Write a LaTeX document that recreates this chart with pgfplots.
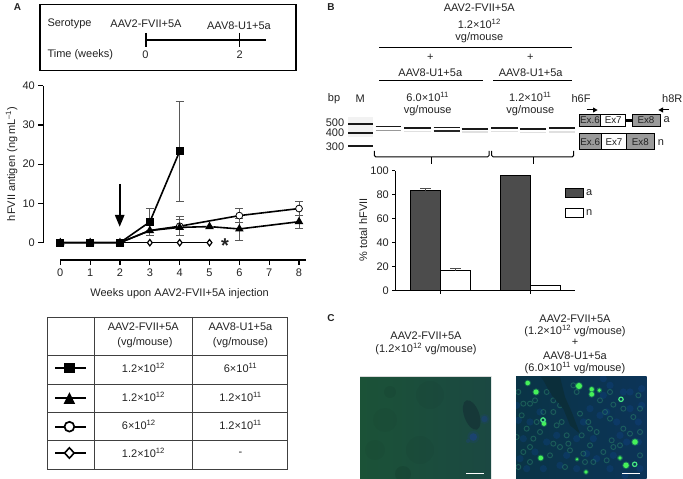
\documentclass[border=0pt]{standalone}
\usepackage{pgfplots}
\pgfplotsset{compat=1.18}
\usepackage{fontspec}
\setmainfont{Liberation Sans}
\newcommand{\fs}{\fontsize{11}{13}\selectfont}
\newcommand{\fx}{\fontsize{9.8}{12}\selectfont}
\newcommand{\sq}[1]{\textsuperscript{#1}}
\definecolor{ink}{HTML}{222222}
\definecolor{exg}{HTML}{9A9A9A}
\definecolor{lgL}{RGB}{27,82,55}
\definecolor{lgR}{RGB}{27,72,66}
\definecolor{lblue}{RGB}{28,66,120}
\definecolor{lves}{RGB}{22,56,56}
\definecolor{rbL}{RGB}{10,52,70}
\definecolor{rbR}{RGB}{12,52,88}
\definecolor{rblue}{RGB}{16,70,150}
\definecolor{rves}{RGB}{11,46,58}
\definecolor{ring}{RGB}{50,145,110}
\definecolor{glowg}{RGB}{40,190,90}
\definecolor{brightg}{RGB}{70,240,90}
\definecolor{ringb}{RGB}{70,230,130}
\pgfplotsset{
  myaxis/.style={
    scale only axis, clip=false,
    axis x line*=bottom, axis y line*=left,
    axis line style={draw=none},
    tick align=outside,
    tick style={black,line width=1.2pt},
    /pgf/number format/assume math mode=true,
    tick label style={font=\fs,text=ink},
    xtick pos=bottom, ytick pos=left,
  },
  ebar/.style={error bars/.cd, y dir=both, y explicit,
     error bar style={line width=0.8pt,draw=black!65},
     error mark options={rotate=90,mark size=4pt,line width=0.8pt,draw=black!65}},
}
\begin{document}
\begin{tikzpicture}
\path[use as bounding box] (0pt,0pt) rectangle (683pt,479pt);

\begin{scope}[x=1pt,y=-1pt,shift={(0pt,479pt)},every node/.style={font=\fs,text=ink,inner sep=0pt}]
% panel labels
\node[font=\fontsize{10}{12}\selectfont\bfseries] at (17.5,7) {A};
\node[font=\fontsize{10}{12}\selectfont\bfseries] at (331,7) {B};
\node[font=\fontsize{10}{12}\selectfont\bfseries] at (331,318) {C};
% schedule box
\draw[line width=1.5pt] (40,4.5) rectangle (296,70.3);
\node[anchor=west] at (47.3,23.7) {Serotype};
\node at (146,23.7) {AAV2-FVII+5A};
\node at (239,25.3) {AAV8-U1+5a};
\node[anchor=west] at (47.3,55) {Time (weeks)};
\node at (145.5,55) {0};
\node at (239.6,55) {2};
\draw[line width=1.7pt] (146,40) -- (265.7,40);
\draw[line width=1.7pt] (146,33) -- (146,46.7);
\draw[line width=1.7pt] (239.5,33) -- (239.5,46.7);
% arrow and star
\draw[line width=2pt] (119.7,184) -- (119.7,216);
\fill (114.8,215) -- (124.6,215) -- (119.7,226.7) -- cycle;
\node[font=\fontsize{20}{20}\selectfont\bfseries] at (225,246) {*};
% table
\draw[line width=0.9pt,draw=black!75]
  (47,317) rectangle (287.7,469)
  (94.7,317) -- (94.7,469) (192,317) -- (192,469)
  (47,355.7) -- (287.7,355.7) (47,384.3) -- (287.7,384.3)
  (47,412.3) -- (287.7,412.3) (47,440.7) -- (287.7,440.7);
\node at (143.3,326.7) {AAV2-FVII+5A};
\node at (145,342.3) {(vg/mouse)};
\node at (240.5,326.7) {AAV8-U1+5a};
\node at (240.5,342.3) {(vg/mouse)};
\node at (143.5,368.3) {1.2×10\sq{12}};
\node at (143.5,397) {1.2×10\sq{12}};
\node[anchor=west] at (121.7,425) {6×10\sq{12}};
\node at (143.5,453.3) {1.2×10\sq{12}};
\node at (240.5,368.3) {6×10\sq{11}};
\node at (240.5,397) {1.2×10\sq{11}};
\node at (240.5,425) {1.2×10\sq{11}};
\node at (240.5,453.5) {-};
\foreach \yy in {368,398,426.7,453} \draw[line width=1.8pt] (55,\yy) -- (85.7,\yy);
\fill (64.2,362.8) rectangle (74.6,373.2);
\fill (69.4,392.2) -- (75.2,404) -- (63.6,404) -- cycle;
\draw[line width=1.7pt,fill=white] (69.4,426.7) circle (4.9);
\draw[line width=1.6pt,fill=white] (69.4,447.8) -- (74.2,453) -- (69.4,458.2) -- (64.6,453) -- cycle;

% panel B header
\node at (479.3,8) {AAV2-FVII+5A};
\node at (479.3,24) {1.2×10\sq{12}};
\node at (479.3,37.7) {vg/mouse};
\draw[line width=0.9pt] (379,47.3) -- (572.3,47.3);
\node at (430.3,57.3) {+};
\node at (530.3,57.3) {+};
\node at (430.3,72.7) {AAV8-U1+5a};
\node at (530.7,72.7) {AAV8-U1+5a};
\draw[line width=0.9pt] (379,80.7) -- (483.3,80.7) (493.3,80.7) -- (572.3,80.7);
\node at (334,98.3) {bp};
\node at (360.3,98.3) {M};
\node at (427.7,96.7) {6.0×10\sq{11}};
\node at (427.7,111) {vg/mouse};
\node at (530.3,96.7) {1.2×10\sq{11}};
\node at (530.3,111) {vg/mouse};
\node at (581,99) {h6F};
\node at (672.3,99) {h8R};
\node at (335,122.7) {500};
\node at (335,132.7) {400};
\node at (335,146.7) {300};
% gel
\fill[black!5] (348.3,116.7) rectangle (373.3,137);
\foreach \yy in {124,132.7,146.3} \draw[line width=1.7pt,black!90] (348.3,\yy) -- (373.3,\yy);
\foreach \xa/\xb/\ya/\wa/\yb/\cb/\wb in {
 375.7/401/126.6/1.1/130.7/black!40/1.5,
 404.3/430.7/128.2/1.6/131.4/black!12/1.4,
 433.7/459.7/127.4/1.1/131/black!85/1.4,
 461.7/487.7/128.7/1.8/131.9/black!12/1.4,
 491/517.7/128.3/2/131.7/black!12/1.4,
 520.3/546.3/129/2/132.4/black!12/1.4,
 549.3/575/128.3/2/131.9/black!12/1.4}{
  \draw[line width=\wb pt,\cb] (\xa,\yb) -- (\xb,\yb);
  \draw[line width=\wa pt,black!90] (\xa,\ya) -- (\xb,\ya);
}
% brackets
\draw[line width=1pt,rounded corners=1.5pt] (374.3,151) -- (374.3,157) -- (489,157) -- (489,151);
\draw[line width=1pt,rounded corners=1.5pt] (491.7,151) -- (491.7,157) -- (573.7,157) -- (573.7,151);
\draw[line width=1pt] (431.7,157) -- (431.7,164.3) (533,157) -- (533,164.3);
% exons
\draw[line width=0.8pt,fill=exg] (579,114) rectangle (600.7,126);
\draw[line width=0.8pt,fill=white] (600.7,114) rectangle (625.7,126);
\draw[line width=2.6pt] (625.7,120.5) -- (632.3,120.5);
\draw[line width=0.8pt,fill=exg] (632.3,114) rectangle (660,126);
\draw[line width=0.8pt,fill=exg] (579,133.7) rectangle (601.3,149.3);
\draw[line width=0.8pt,fill=white] (601.3,133.7) rectangle (626.7,149.3);
\draw[line width=0.8pt,fill=exg] (626.7,133.7) rectangle (654,149.3);
\node[font=\fx] at (590,120) {Ex.6};
\node[font=\fx] at (613.2,120) {Ex7};
\node[font=\fx] at (646,120) {Ex8};
\node[font=\fx] at (590.2,142) {Ex.6};
\node[font=\fx] at (614,142) {Ex7};
\node[font=\fx] at (640.3,142) {Ex8};
\node at (666.7,120) {a};
\node at (661,142.3) {n};
\draw[line width=1pt] (586.7,110) -- (594,110);
\fill (593,107.4) -- (597.6,110) -- (593,112.6) -- cycle;
\draw[line width=1pt] (669,110) -- (662,110);
\fill (663,107.4) -- (658.4,110) -- (663,112.6) -- cycle;

% panel C
\node at (426,336) {AAV2-FVII+5A};
\node at (426,349.3) {(1.2×10\sq{12} vg/mouse)};
\node at (575,318.3) {AAV2-FVII+5A};
\node at (575,331) {(1.2×10\sq{12} vg/mouse)};
\node at (575,342.3) {+};
\node at (575,355.7) {AAV8-U1+5a};
\node at (575,368.3) {(6.0×10\sq{11} vg/mouse)};
% left micrograph
\begin{scope}
\clip (360,376.7) rectangle (491,478.5);
\shade[left color=lgL,right color=lgR] (360,376.7) rectangle (491,478.5);
\foreach \x/\y/\r/\o in {390/392/6/.05,403/474/8/.08,385/420/12/.03,430/395/14/.03,420/450/14/.03,375/450/10/.03}
  \fill[black,opacity=\o] (\x,\y) circle (\r);
\fill[lblue,opacity=.25] (473.3,437) circle (6);
\fill[lblue,opacity=.8] (473.3,437) circle (3.8);
\fill[lblue,opacity=.25] (484.5,419) circle (5);
\fill[lblue,opacity=.6] (484.5,419) circle (3.2);
\fill[lblue,opacity=.4] (468,441) circle (2);
\fill[lves,rotate around={20:(471.7,415)}] (471.7,415) ellipse (7.5 and 15.5);
\end{scope}
\draw[line width=1.5pt,white] (466.3,473.7) -- (483.7,473.7);
\draw[line width=0.5pt,black!15] (360,376.7) -- (491,376.7);
% right micrograph
\begin{scope}
\clip (516,377) rectangle (646.7,478.5);
\shade[left color=rbL,right color=rbR] (516,377) rectangle (646.7,478.5);
\foreach \a/\b in {
 300/40,340/60,290/120,320/150,360/110,385/150,350/210,310/250,385/210,270/130,
 240/110,250/200,300/290,345/310,390/290,260/260,200/290,150/280,100/290,50/290,
 30/260,60/150,90/120,130/60,20/100,40/200,110/210,170/250,200/200,220/150,
 360/60,395/50,280/70,330/190,280/20,395/100,230/245,140/190,75/240,25/145}
  \fill[rblue,opacity=.28] ({510+\a/3},{372+\b/3}) circle (3.6);
\foreach \a/\b in {
 100/145,60/95,130/120,310/98,340/110,390/110,260/180,305/205,240/170,150/225,
 180/235,120/250,250/270,50/170,130/215,20/195,390/180,300/140,310/225,360/185,
 240/220,270/85,210/125,70/200,90/180,155/150,35/130,40/240,170/190,130/85,
 100/120,60/225,280/240,220/245,390/250,370/135,340/170,285/120,40/95,25/60,
 75/85,330/220,290/265,150/100,110/60,190/40,225/270,165/285,60/270,25/285,
 200/60,215/190,235/150,300/60,385/70,140/160,80/150,175/215}{
  \draw[ring,line width=1.4pt,opacity=.14] ({510+\a/3},{372+\b/3}) circle (2.5);
  \draw[ring,line width=.6pt,opacity=.42] ({510+\a/3},{372+\b/3}) circle (2.5);
}
\fill[rves] (541,377) -- (560,377) -- (565,397) -- (571.7,412) -- (580,433.7) -- (570,425.3) -- (563.3,408.7) -- (551.7,395.3) -- (543.3,380.3) -- cycle;
\foreach \x/\y/\r in {527.7/383/2.3,536/392/2.6,579/386/3,591.7/389.3/2.2,591.7/394.3/2.4,599.3/390.3/1.8,
 544/423.7/2.2,635/442/2.8,620/458/1.9,626/465.3/2.8,540.7/458/2.4,577/459.3/1.3,586/472/1.8}{
  \fill[glowg,opacity=.4] (\x,\y) circle ({\r+1});
  \fill[brightg] (\x,\y) circle (\r);
}
\foreach \x/\y in {621/399.3,634.7/464.3,543/420}{
  \draw[ringb,line width=1.2pt] (\x,\y) circle (2.2);
}
\end{scope}
\draw[line width=1.5pt,white] (622,473.7) -- (640,473.7);
\end{scope}

% ---------- line chart, panel A
\begin{axis}[myaxis,
  at={(43.3pt,219pt)},anchor=south west,
  width=262.2pt,height=174.3pt,
  xmin=-0.57,xmax=8.217,ymin=-4.41,ymax=40,
  xtick={0,1,2,3,4,5,6,7,8},ytick={0,10,20,30,40},
  major tick length=5pt,
  xlabel={Weeks upon AAV2-FVII+5A injection},
  ylabel={hFVII antigen (ng\,mL\textsuperscript{–1})},
  every axis x label/.style={at={(axis description cs:0.52,-0.191)},anchor=center,font=\fs,text=ink},
  every axis y label/.style={at={(axis description cs:-0.1205,0.551)},anchor=center,rotate=90,font=\fs,text=ink},
  every axis plot/.append style={line width=1.6pt,black},
]
\draw[line width=1.3pt] (axis cs:-0.57,0) -- (axis cs:-0.57,40);
\draw[line width=1.3pt] (axis cs:0,-4.41) -- (axis cs:8.217,-4.41);
\addplot[mark=diamond*,mark size=3.2pt,mark options={fill=white,line width=1.2pt}] coordinates {(0,0)(1,0)(2,0)(3,0)(4,0)(5,0)};
\addplot[mark=*,mark size=3.4pt,mark options={fill=white,line width=0.8pt},mark indices={5,6,7},ebar] coordinates {
 (0,0)(1,0)(2,0)(3,3.1) +- (0,0)
 (4,4.2) +- (0,2.4)
 (6,6.9) +- (0,1.75)
 (8,8.7) +- (0,1.7)};
\addplot[mark=triangle*,mark size=3.4pt,ebar] coordinates {
 (0,0)(1,0)(2,0)
 (3,3.1) +- (0,1.2)
 (4,3.9) +- (0,2)
 (5,4.1) +- (0,0)
 (6,3.5) +- (0,2.8)
 (8,5.35) +- (0,1.65)};
\addplot[mark=square*,mark size=3.3pt,ebar] coordinates {
 (0,0)(1,0)(2,0)
 (3,5.3) +- (0,3.4)
 (4,23.3) +- (0,12.7)};
\end{axis}

% ---------- bar chart, panel B
\begin{axis}[myaxis,
  at={(395.3pt,188.3pt)},anchor=south west,
  width=180pt,height=120pt,
  xmin=0.493,xmax=2.502,ymin=0,ymax=100,
  xtick={1,2},xticklabels={,},ytick={0,20,40,60,80,100},
  major tick length=3pt,
  ybar=0pt,bar width=30pt,
  ylabel={\% total hFVII},
  every axis y label/.style={at={(axis description cs:-0.178,0.506)},anchor=center,rotate=90,font=\fs,text=ink},
  legend style={draw=none,fill=none,at={(axis description cs:0.939,0.86)},anchor=north west,
    inner sep=0pt,font=\fs,text=ink,row sep=8.5pt,legend cell align=left,nodes={inner sep=2pt}},
]
\draw[line width=1.3pt] (axis cs:0.493,0) -- (axis cs:0.493,100);
\draw[line width=1.3pt] (axis cs:0.493,0) -- (axis cs:2.502,0);
\addplot[fill=black!70,draw=black,line width=1.4pt,
  legend image code/.code={\draw[fill=black!70,draw=black,line width=1.5pt] (0pt,-4pt) rectangle (18pt,5pt);},
  error bars/.cd,y dir=plus,y explicit,error bar style={line width=0.8pt,draw=black!70},error mark options={rotate=90,mark size=5.5pt,line width=0.8pt,draw=black!70}]
  coordinates {(1,83.3) +- (0,2) (2,95.8)};
\addlegendentry{a}
\addplot[fill=white,draw=black,line width=1.4pt,
  legend image code/.code={\draw[fill=white,draw=black,line width=1.5pt] (0pt,-4pt) rectangle (18pt,5pt);},
  error bars/.cd,y dir=plus,y explicit,error bar style={line width=0.8pt,draw=black!70},error mark options={rotate=90,mark size=5.5pt,line width=0.8pt,draw=black!70}]
  coordinates {(1,16.7) +- (0,1.9) (2,4.4)};
\addlegendentry{n}
\end{axis}
\end{tikzpicture}
\end{document}
